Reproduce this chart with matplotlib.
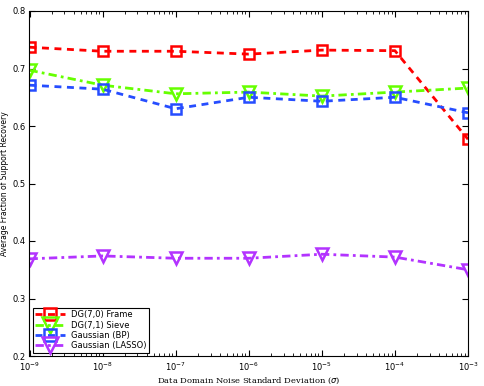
import matplotlib
matplotlib.use("AGG")
import numpy as np
import matplotlib.pyplot as plt

sigma = [1e-9, 1e-8, 1e-7, 1e-6, 1e-5, 1e-4, 1e-3]
dg70 = [0.737, 0.730, 0.730, 0.725, 0.732, 0.731, 0.577]
dg71 = [0.697, 0.671, 0.656, 0.659, 0.652, 0.659, 0.666]
gauss_bp = [0.671, 0.664, 0.630, 0.650, 0.643, 0.650, 0.623]
gauss_lasso = [0.369, 0.374, 0.370, 0.370, 0.377, 0.372, 0.350]

fig = plt.figure(figsize=(4.85, 3.86), dpi=100)
ax = fig.add_axes([29.5/485, 30/386, 438.5/485, 345/386])

ax.plot(sigma, dg70, color=(1, 0, 0), lw=2, ls=(0, (2.5, 2)), marker="s", ms=6.5,
        mfc="none", mew=1.8, label="DG(7,0) Frame")
ax.plot(sigma, dg71, color=(0.4, 1, 0), lw=2, ls=(0, (3, 1.5, 1, 1.5)), marker="v", ms=9,
        mfc="none", mew=1.8, label="DG(7,1) Sieve")
ax.plot(sigma, gauss_bp, color=(0.15, 0.3, 1), lw=2, ls=(0, (2.5, 2)), marker="s", ms=6.5,
        mfc="none", mew=1.8, label="Gaussian (BP)")
ax.plot(sigma, gauss_lasso, color=(0.7, 0.2, 1), lw=2, ls=(0, (3, 1.5, 1, 1.5)), marker="v", ms=9,
        mfc="none", mew=1.8, label="Gaussian (LASSO)")

ax.set_xscale("log")
ax.set_xlim(1e-9, 1e-3)
ax.set_ylim(0.2, 0.8)
ax.set_yticks([0.2, 0.3, 0.4, 0.5, 0.6, 0.7, 0.8])
ax.set_yticklabels(["0.2", "0.3", "0.4", "0.5", "0.6", "0.7", "0.8"])
ax.tick_params(which="both", direction="in", top=True, right=True, labelsize=6, pad=3)
ax.tick_params(which="major", length=4)
ax.tick_params(which="minor", length=2)
for s in ax.spines.values():
    s.set_linewidth(0.8)

ax.set_xlabel(r"Data Domain Noise Standard Deviation ($\sigma$)", family="serif",
              fontsize=6, labelpad=2)
ax.set_ylabel("Average Fraction of Support Recovery", fontsize=5.5, labelpad=2)

leg = ax.legend(loc="lower left", fontsize=6, fancybox=False, edgecolor="black",
                framealpha=1, handlelength=3.5, borderpad=0.3, labelspacing=0.15,
                markerscale=1.3, borderaxespad=0.4)
leg.get_frame().set_linewidth(0.8)

fig.savefig("out.png", dpi=100)
